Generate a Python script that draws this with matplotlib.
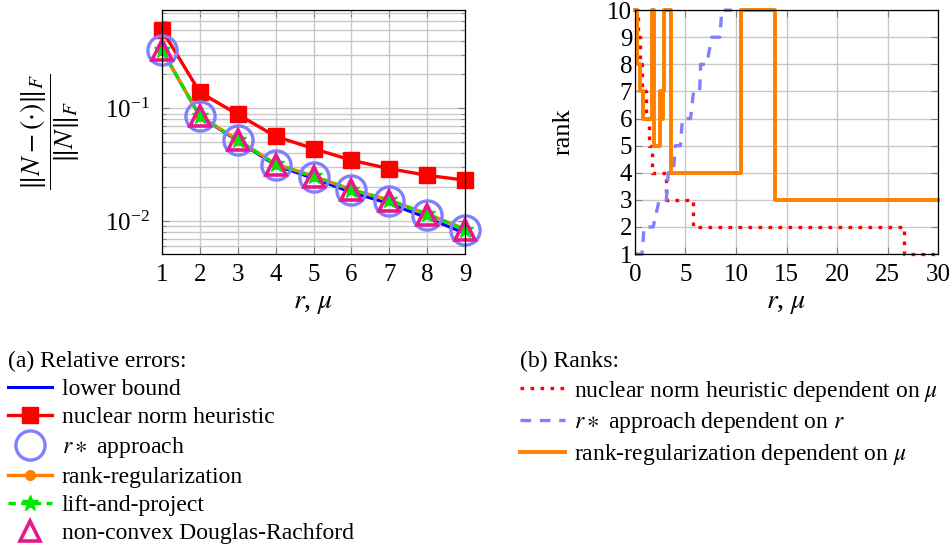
import numpy as np
import matplotlib
matplotlib.use("Agg")
import matplotlib.pyplot as plt
from matplotlib.ticker import LogLocator, NullFormatter, MultipleLocator

plt.rcParams['font.family'] = ['Liberation Serif', 'DejaVu Serif']
plt.rcParams['mathtext.fontset'] = 'stix'
plt.rcParams['font.size'] = 17

# (a) relative errors
r_vals = [1, 2, 3, 4, 5, 6, 7, 8, 9]
lower_bound = [0.329, 0.0848, 0.0515, 0.0313, 0.0239, 0.0180, 0.0143, 0.0107, 0.0078]
nuclear_err = [0.497, 0.139, 0.0885, 0.0565, 0.0440, 0.0347, 0.0292, 0.0255, 0.0231]
rstar_err = [0.330, 0.0850, 0.0521, 0.0318, 0.0247, 0.0188, 0.0151, 0.0113, 0.0083]
rankreg_err = [0.331, 0.0855, 0.0525, 0.0322, 0.0251, 0.0191, 0.0154, 0.0116, 0.0085]
lift_err = [0.330, 0.0852, 0.0523, 0.0320, 0.0249, 0.0190, 0.0153, 0.0115, 0.0084]
dr_err = [0.330, 0.0850, 0.0521, 0.0318, 0.0247, 0.0188, 0.0151, 0.0113, 0.0083]

# (b) ranks
mu_nn = [0, 0.3, 0.5, 0.7, 1.1, 1.4, 1.7, 3.1, 5.7, 26.6, 30]
rank_nn = [10, 9, 8, 7, 6, 5, 4, 3, 2, 1, 1]
r_star = [0, 0.7, 0.9, 1.8, 2.4, 3.1, 3.3, 3.8, 4.0, 4.5, 4.7, 5.5, 5.8, 6.4, 6.5, 7.1, 7.6, 8.4, 8.6, 9.6]
rank_star = [1, 1, 2, 2, 3, 3, 4, 4, 5, 5, 6, 6, 7, 7, 8, 8, 9, 9, 10, 10]
mu_rr = [0, 0.2, 0.5, 0.8, 1.65, 1.9, 2.5, 2.65, 2.75, 2.9, 3.55, 10.45, 13.9, 30]
rank_rr = [10, 8, 7, 6, 10, 5, 7, 6, 7, 10, 4, 10, 3, 3]

RED = '#ff0000'
BLUE = '#0000ff'
LBLUE = '#8080ff'
ORANGE = '#ff8000'
GREEN = '#00e600'
PINK = '#e6198c'
GRIDC = '#c8c8c8'

fig = plt.figure(figsize=(9.5, 5.5), dpi=100)
ax1 = fig.add_axes([0.1705, 0.538, 0.319, 0.4436])
ax2 = fig.add_axes([0.6684, 0.538, 0.319, 0.4436])

# ---- left: relative errors
h_lb, = ax1.plot(r_vals, lower_bound, color=BLUE, lw=2.2, label='lower bound')
h_nn, = ax1.plot(r_vals, nuclear_err, color=RED, lw=2.4, marker='s', ms=11.5,
                 label='nuclear norm heuristic')
h_rr, = ax1.plot(r_vals, rankreg_err, color=ORANGE, lw=2.4, marker='o', ms=7,
                 label='rank-regularization')
h_lp, = ax1.plot(r_vals, lift_err, color=GREEN, lw=2.4, ls=(0, (2.2, 1.6)), marker='*',
                 ms=12, label='lift-and-project')
h_rs, = ax1.plot(r_vals, rstar_err, ls='none', marker='o', ms=21, mfc='none',
                 mec=LBLUE, mew=2.4, label=r'$r\ast$ approach')
h_dr, = ax1.plot(r_vals, dr_err, ls='none', marker='^', ms=15, mfc='none',
                 mec=PINK, mew=2.6, label='non-convex Douglas-Rachford')
for ln in ax1.get_lines():
    ln.set_clip_on(False)

ax1.set_yscale('log')
ax1.set_xlim(1, 9)
ax1.set_ylim(0.0051, 0.745)
ax1.set_xticks(r_vals)
ax1.yaxis.set_major_locator(LogLocator(base=10))
ax1.yaxis.set_minor_locator(LogLocator(base=10, subs=np.arange(2, 10)))
ax1.yaxis.set_minor_formatter(NullFormatter())
ax1.grid(True, which='major', color=GRIDC, lw=1.0)
ax1.grid(True, which='minor', axis='y', color=GRIDC, lw=1.0)
ax1.set_axisbelow(True)
ax1.set_xlabel(r'$r$, $\mu$', fontsize=20)
ax1.xaxis.set_label_coords(0.5, -0.15)
ax1.set_ylabel(r'$\dfrac{\|N-(\cdot)\|_F}{\|N\|_F}$', fontsize=20)
ax1.yaxis.set_label_coords(-0.265, 0.5)

# ---- right: ranks
ax2.plot(mu_nn, rank_nn, color=RED, lw=2.4, ls=(0, (1.1, 1.9)), drawstyle='steps-post',
         label=r'nuclear norm heuristic dependent on $\mu$')
ax2.plot(r_star, rank_star, color=LBLUE, lw=2.4, ls=(0, (3.2, 2.6)),
         label=r'$r\ast$ approach dependent on $r$')
ax2.plot(mu_rr, rank_rr, color=ORANGE, lw=2.8, drawstyle='steps-post',
         label=r'rank-regularization dependent on $\mu$')
for ln in ax2.get_lines():
    ln.set_clip_on(False)
ax2.set_xlim(0, 30)
ax2.set_ylim(1, 10)
ax2.xaxis.set_major_locator(MultipleLocator(5))
ax2.yaxis.set_major_locator(MultipleLocator(1))
ax2.grid(True, color=GRIDC, lw=1.0)
ax2.set_axisbelow(True)
ax2.set_xlabel(r'$r$, $\mu$', fontsize=20)
ax2.xaxis.set_label_coords(0.5, -0.15)
ax2.set_ylabel('rank', fontsize=19)
ax2.yaxis.set_label_coords(-0.2, 0.5)

for ax in (ax1, ax2):
    ax.tick_params(which='both', direction='in', top=True, right=True,
                   color='#808080', labelsize=18)
    ax.tick_params(which='major', length=5)
    ax.tick_params(which='minor', length=3)
    ax.tick_params(axis='x', pad=7)
    for s in ax.spines.values():
        s.set_color('black')
        s.set_linewidth(0.9)
ax1.tick_params(axis='y', pad=9)
ax2.tick_params(axis='y', pad=2)

leg_kw = dict(loc='upper left', frameon=False, borderaxespad=0, borderpad=0,
              alignment='left', handlelength=1.9, handletextpad=0.4,
              labelspacing=0.28, numpoints=1, fontsize=17, title_fontsize=17)
fig.legend(handles=[h_lb, h_nn, h_rs, h_rr, h_lp, h_dr],
           title='(a) Relative errors:', bbox_to_anchor=(0.008, 0.362),
           bbox_transform=fig.transFigure, **leg_kw)
fig.legend(handles=ax2.get_lines(), title='(b) Ranks:',
           bbox_to_anchor=(0.547, 0.362), bbox_transform=fig.transFigure, **leg_kw)

fig.savefig('out.png', dpi=100)
